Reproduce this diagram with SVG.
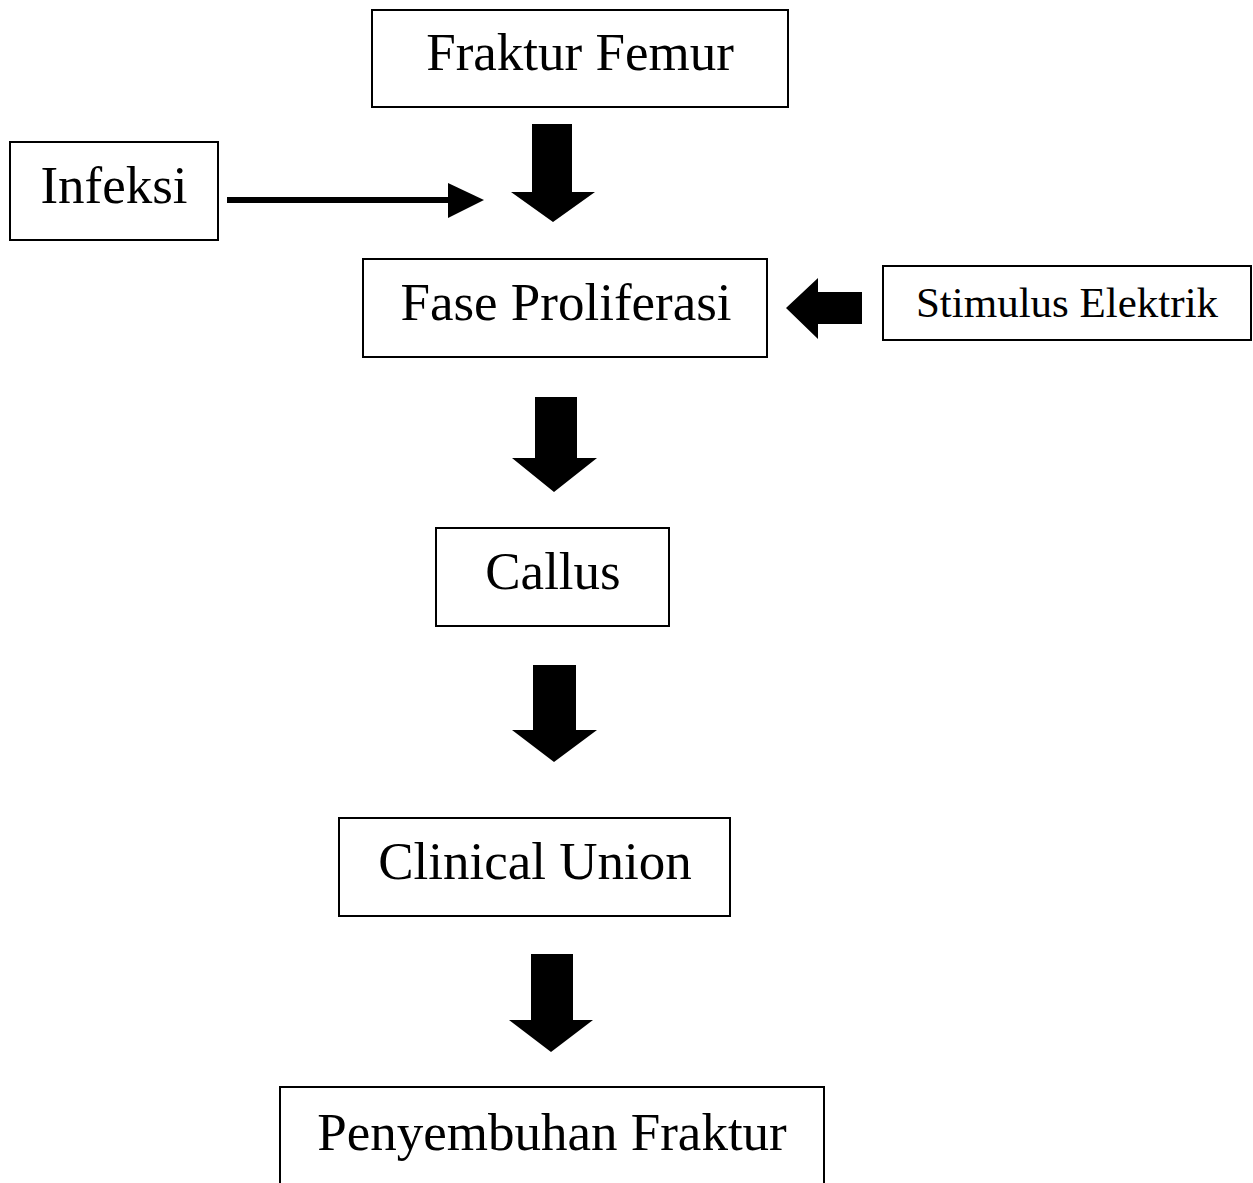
<svg xmlns="http://www.w3.org/2000/svg" width="1253" height="1183" viewBox="0 0 1253 1183">
<style>
.box{fill:#fff;stroke:#000;stroke-width:2}
.t{font-family:"Liberation Serif","Times New Roman",serif;fill:#000;text-anchor:middle}
.arr{fill:#000;stroke:none}
</style>
<rect width="1253" height="1183" fill="#fff"/>
<g id="connectors">
<g id="infeksi-arrow">
<rect class="arr" x="227" y="197" width="223" height="6"/>
<polygon class="arr" points="448,183 484,200 448,218"/>
</g>
<polygon id="arrow1" class="arr" points="532,124 572,124 572,192 595,192 553,222 511,192 532,192"/>
<polygon id="stim-arrow" class="arr" points="862,292 862,324 818,324 818,339 786,308 818,278 818,292"/>
<polygon id="arrow2" class="arr" points="535,397 577,397 577,458 597,458 554,492 512,458 535,458"/>
<polygon id="arrow3" class="arr" points="533,665 576,665 576,730 597,730 554,762 512,730 533,730"/>
<polygon id="arrow4" class="arr" points="531,954 573,954 573,1020 593,1020 551,1052 509,1020 531,1020"/>
</g>
<g id="fraktur-femur">
<rect class="box" x="372" y="10" width="416" height="97"/>
<text class="t" x="580" y="70" font-size="53">Fraktur Femur</text>
</g>
<g id="infeksi">
<rect class="box" x="10" y="142" width="208" height="98"/>
<text class="t" x="114" y="203" font-size="53">Infeksi</text>
</g>
<g id="fase-proliferasi">
<rect class="box" x="363" y="259" width="404" height="98"/>
<text class="t" x="566" y="320" font-size="53">Fase Proliferasi</text>
</g>
<g id="stimulus-elektrik">
<rect class="box" x="883" y="266" width="368" height="74"/>
<text class="t" x="1067" y="317" font-size="43">Stimulus Elektrik</text>
</g>
<g id="callus">
<rect class="box" x="436" y="528" width="233" height="98"/>
<text class="t" x="553" y="589" font-size="53">Callus</text>
</g>
<g id="clinical-union">
<rect class="box" x="339" y="818" width="391" height="98"/>
<text class="t" x="535" y="879" font-size="53">Clinical Union</text>
</g>
<g id="penyembuhan-fraktur">
<rect class="box" x="280" y="1087" width="544" height="110"/>
<text class="t" x="552" y="1150" font-size="53">Penyembuhan Fraktur</text>
</g>
</svg>
